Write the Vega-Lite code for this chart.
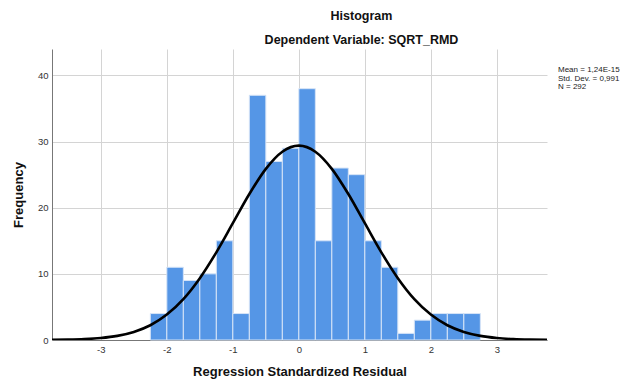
{
  "$schema": "https://vega.github.io/schema/vega-lite/v6.json",
  "autosize": {"type": "none"},
  "padding": {"left": 52, "top": 49, "right": 76, "bottom": 41},
  "width": 495,
  "height": 291,
  "background": "white",
  "config": {
    "font": "Liberation Sans",
    "view": {"stroke": null},
    "axis": {
      "labelFont": "Liberation Sans",
      "labelFontSize": 9.5,
      "labelColor": "#333333",
      "titleFont": "Liberation Sans",
      "titleFontSize": 13,
      "titleFontWeight": "bold",
      "titleColor": "#111111",
      "gridColor": "#d4d4d4",
      "gridWidth": 1,
      "domainColor": "#777777",
      "ticks": false,
      "labelPadding": 4
    }
  },
  "title": {
    "text": ["Histogram", "Dependent Variable: SQRT_RMD"],
    "fontSize": 12.5,
    "fontWeight": "bold",
    "font": "Liberation Sans",
    "color": "#111111",
    "lineHeight": 24,
    "anchor": "middle",
    "dx": 62,
    "offset": 3
  },
  "datasets": {
    "bins": [
      {"start": -2.25, "end": -2.0, "count": 4},
      {"start": -2.0, "end": -1.75, "count": 11},
      {"start": -1.75, "end": -1.5, "count": 9},
      {"start": -1.5, "end": -1.25, "count": 10},
      {"start": -1.25, "end": -1.0, "count": 15},
      {"start": -1.0, "end": -0.75, "count": 4},
      {"start": -0.75, "end": -0.5, "count": 37},
      {"start": -0.5, "end": -0.25, "count": 27},
      {"start": -0.25, "end": 0.0, "count": 29},
      {"start": 0.0, "end": 0.25, "count": 38},
      {"start": 0.25, "end": 0.5, "count": 15},
      {"start": 0.5, "end": 0.75, "count": 26},
      {"start": 0.75, "end": 1.0, "count": 25},
      {"start": 1.0, "end": 1.25, "count": 15},
      {"start": 1.25, "end": 1.5, "count": 11},
      {"start": 1.5, "end": 1.75, "count": 1},
      {"start": 1.75, "end": 2.0, "count": 3},
      {"start": 2.0, "end": 2.25, "count": 4},
      {"start": 2.25, "end": 2.5, "count": 4},
      {"start": 2.5, "end": 2.75, "count": 4}
    ],
    "curve": [
      {"cx": -3.74, "cy": 0.024},
      {"cx": -3.5, "cy": 0.058},
      {"cx": -3.25, "cy": 0.136},
      {"cx": -3.0, "cy": 0.301},
      {"cx": -2.75, "cy": 0.625},
      {"cx": -2.5, "cy": 1.22},
      {"cx": -2.25, "cy": 2.23},
      {"cx": -2.0, "cy": 3.84},
      {"cx": -1.75, "cy": 6.18},
      {"cx": -1.5, "cy": 9.35},
      {"cx": -1.25, "cy": 13.26},
      {"cx": -1.0, "cy": 17.66},
      {"cx": -0.75, "cy": 22.07},
      {"cx": -0.5, "cy": 25.88},
      {"cx": -0.25, "cy": 28.47},
      {"cx": 0.0, "cy": 29.39},
      {"cx": 0.25, "cy": 28.47},
      {"cx": 0.5, "cy": 25.88},
      {"cx": 0.75, "cy": 22.07},
      {"cx": 1.0, "cy": 17.66},
      {"cx": 1.25, "cy": 13.26},
      {"cx": 1.5, "cy": 9.35},
      {"cx": 1.75, "cy": 6.18},
      {"cx": 2.0, "cy": 3.84},
      {"cx": 2.25, "cy": 2.23},
      {"cx": 2.5, "cy": 1.22},
      {"cx": 2.75, "cy": 0.625},
      {"cx": 3.0, "cy": 0.301},
      {"cx": 3.25, "cy": 0.136},
      {"cx": 3.5, "cy": 0.058},
      {"cx": 3.76, "cy": 0.022}
    ],
    "stats": [
      {"label": "Mean = 1,24E-15"},
      {"label": "Std. Dev. = 0,991"},
      {"label": "N = 292"}
    ]
  },
  "layer": [
    {
      "data": {"name": "bins"},
      "mark": {"type": "rect", "color": "#5596e6", "stroke": "#d6e4f7", "strokeWidth": 1},
      "encoding": {
        "x": {
          "field": "start", "type": "quantitative",
          "scale": {"domain": [-3.74, 3.76], "nice": false, "zero": false},
          "axis": {"values": [-3, -2, -1, 0, 1, 2, 3], "labelExpr": "'' + datum.value", "title": "Regression Standardized Residual", "titlePadding": 12, "grid": true}
        },
        "x2": {"field": "end"},
        "y": {
          "field": "count", "type": "quantitative",
          "scale": {"domain": [0, 44], "nice": false},
          "axis": {"values": [0, 10, 20, 30, 40], "labelExpr": "'' + datum.value", "title": "Frequency", "titlePadding": 12, "grid": true}
        },
        "y2": {"datum": 0}
      }
    },
    {
      "data": {"name": "curve"},
      "mark": {"type": "line", "color": "#000000", "strokeWidth": 2.6, "interpolate": "monotone", "clip": true},
      "encoding": {
        "x": {"field": "cx", "type": "quantitative"},
        "y": {"field": "cy", "type": "quantitative"}
      }
    },
    {
      "data": {"name": "stats"},
      "mark": {"type": "point", "opacity": 0},
      "encoding": {
        "color": {
          "field": "label", "type": "nominal",
          "scale": {"domain": ["Mean = 1,24E-15", "Std. Dev. = 0,991", "N = 292"], "range": ["#000000", "#000000", "#000000"]},
          "legend": {
            "title": null,
            "orient": "none",
            "legendX": 498,
            "legendY": 17,
            "padding": 0,
            "symbolSize": 0,
            "symbolStrokeWidth": 0,
            "symbolOpacity": 0,
            "labelOffset": 0,
            "labelFont": "Liberation Sans",
            "labelFontSize": 8,
            "labelColor": "#222222",
            "rowPadding": 0.5,
            "labelLimit": 200
          }
        }
      }
    }
  ]
}
